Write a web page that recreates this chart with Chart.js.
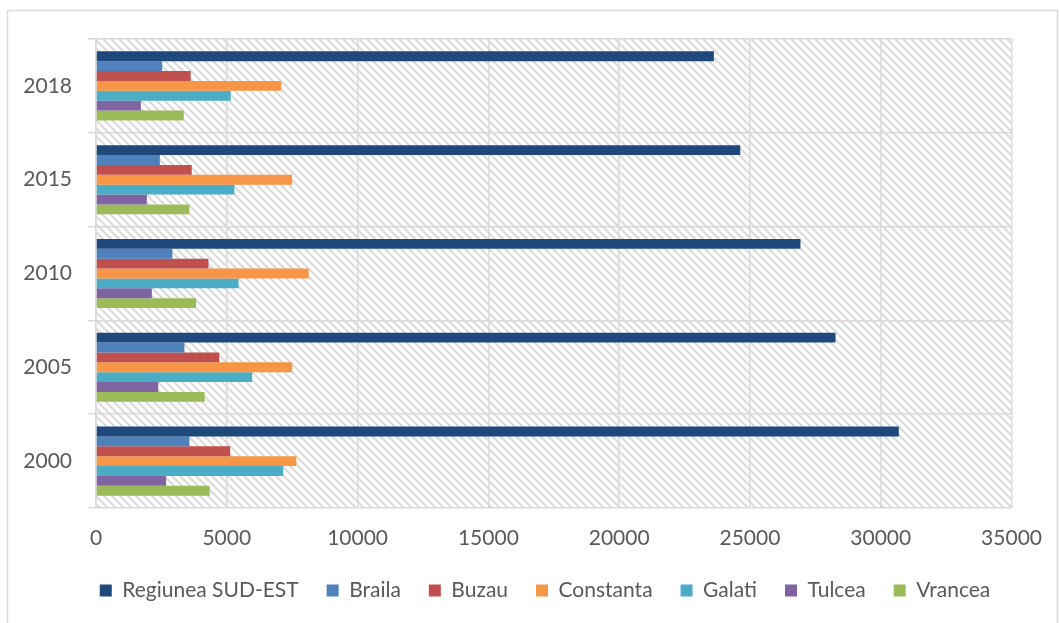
<!DOCTYPE html>
<html>
<head>
<meta charset="utf-8">
<script src="https://cdn.jsdelivr.net/npm/chart.js@4/dist/chart.umd.min.js"></script>
<style>
  html, body { margin: 0; padding: 0; background: #fff; }
  canvas { display: block; }
</style>
</head>
<body>
<canvas id="chart" width="1060" height="623"></canvas>
<script>
// years bottom to top, y axis is reversed so 2018 ends up on top
const years = ['2000', '2005', '2010', '2015', '2018'];

const sudEst    = [30690, 28270, 26930, 24630, 23620];
const braila    = [3570, 3380, 2920, 2440, 2530];
const buzau     = [5130, 4715, 4300, 3660, 3620];
const constanta = [7660, 7500, 8130, 7500, 7080];
const galati    = [7155, 5970, 5450, 5290, 5150];
const tulcea    = [2680, 2380, 2135, 1945, 1715];
const vrancea   = [4345, 4155, 3825, 3570, 3355];

const seriesNames = ['Regiunea SUD-EST', 'Braila', 'Buzau', 'Constanta', 'Galati', 'Tulcea', 'Vrancea'];
const seriesColors = ['#1f497d', '#4f81bd', '#c0504d', '#f79646', '#4bacc6', '#8064a2', '#9bbb59'];
const xTicks = [0, 5000, 10000, 15000, 20000, 25000, 30000, 35000];

const gridColor = '#d9d9d9';
const textColor = '#595959';
const fontFamily = 'Lato, "Open Sans", sans-serif';

// light diagonal hatch behind the bars
function makeHatch() {
    const tile = document.createElement('canvas');
    tile.width = 8;
    tile.height = 8;
    const t = tile.getContext('2d');
    t.fillStyle = '#ffffff';
    t.fillRect(0, 0, 8, 8);
    t.strokeStyle = '#dadada';
    t.lineWidth = 2;
    t.beginPath();
    t.moveTo(-2, -2); t.lineTo(10, 10);
    t.moveTo(-2, 6); t.lineTo(2, 10);
    t.moveTo(6, -2); t.lineTo(10, 2);
    t.stroke();
    return tile;
}

const hatchPlugin = {
    id: 'hatch',
    afterLayout(chart) {
        // original legend is centred under the plot, not the canvas
        chart.legend.left += 38;
        chart.legend.right += 38;
    },
    beforeDraw(chart) {
        const {ctx, chartArea} = chart;
        ctx.save();
        ctx.fillStyle = ctx.createPattern(makeHatch(), 'repeat');
        ctx.fillRect(chartArea.left, chartArea.top, chartArea.right - chartArea.left, chartArea.bottom - chartArea.top);
        ctx.restore();
    },
    afterDraw(chart) {
        const ctx = chart.ctx;
        ctx.save();
        ctx.strokeStyle = gridColor;
        ctx.lineWidth = 1.5;
        ctx.strokeRect(7.5, 10.5, 1050, 640);
        ctx.restore();
    }
};

const allData = [sudEst, braila, buzau, constanta, galati, tulcea, vrancea];

const ctx = document.getElementById('chart').getContext('2d');
new Chart(ctx, {
    type: 'bar',
    data: {
        labels: years,
        datasets: allData.map((values, i) => ({
            label: seriesNames[i],
            data: values,
            backgroundColor: seriesColors[i],
            borderWidth: 0,
            categoryPercentage: 0.737,
            barPercentage: 1.0
        }))
    },
    options: {
        indexAxis: 'y',
        responsive: false,
        animation: false,
        layout: {
            padding: { top: 39, right: 46, left: 0, bottom: 12 }
        },
        scales: {
            x: {
                min: 0,
                max: 35000,
                afterBuildTicks(scale) {
                    scale.ticks = xTicks.map(v => ({ value: v }));
                },
                afterFit(scale) { scale.height = 44; },
                grid: { color: gridColor, lineWidth: 1.5, drawTicks: false },
                border: { display: false },
                ticks: {
                    color: textColor,
                    font: { family: fontFamily, size: 21 },
                    padding: 18,
                    callback: v => String(v)
                }
            },
            y: {
                reverse: true,
                afterFit(scale) { scale.width = 96; },
                grid: { color: gridColor, lineWidth: 1.5, offset: true, tickLength: 8 },
                border: { display: true, color: gridColor, width: 1.5 },
                ticks: {
                    color: textColor,
                    font: { family: fontFamily, size: 21 },
                    padding: 16
                }
            }
        },
        plugins: {
            legend: {
                position: 'bottom',
                labels: {
                    color: textColor,
                    font: { family: fontFamily, size: 21 },
                    boxWidth: 12,
                    boxHeight: 12,
                    padding: 28
                }
            },
            tooltip: { enabled: false }
        }
    },
    plugins: [hatchPlugin]
});
</script>
</body>
</html>
